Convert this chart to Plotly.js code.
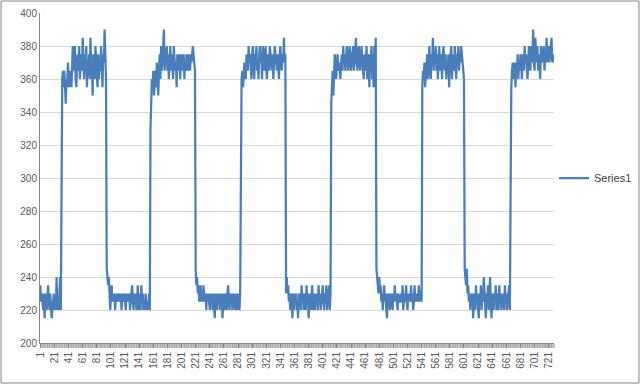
<!DOCTYPE html>
<html>
<head>
<meta charset="utf-8">
<script src="https://cdn.plot.ly/plotly-3.0.1.min.js"></script>
<style>html,body{margin:0;padding:0;background:#fff;overflow:hidden;width:640px;height:384px;}#chart{width:640px;height:384px;overflow:hidden;}</style>
</head>
<body>
<div id="chart"></div>
<script>
// Series1 values, read cycle by cycle from the reference
var low1 = [235,225,230,225,220,230,215,225,230,220,225,235,225,220,230,225,215,220,225,230,220,225,220,240,220,225,220,235,240,220];
var high1 = [345,360,365,355,365,350,345,360,355,370,365,355,360,365,355,370,380,365,375,380,360,355,370,375,365,380,360,370,375,365,385,370,360,375,365,380,355,370,365,375,360,385,365,370,350,375,365,360,380,370,365,355,375,360,370,365,380,360,355,375,370,390,375,360];
var low2 = [245,240,235,240,225,220,230,235,225,230,225,230,220,230,225,230,225,230,230,225,230,220,230,225,230,230,225,220,230,225,230,225,230,220,225,230,235,225,220,230,225,230,220,225,235,220,230,225,220,235,225,230,220,225,220,230,225,220,225,220,230,220];
var high2 = [330,350,360,355,365,350,360,365,355,370,360,350,365,375,360,380,365,370,380,390,365,375,370,380,365,375,360,370,380,365,375,370,360,380,375,365,370,355,375,370,365,375,360,370,375,365,370,375,360,370,365,375,370,365,375,370,365,375,370,375,380,375,370,365];
var low3 = [245,235,240,230,235,225,230,235,225,230,225,235,230,225,230,220,230,225,230,225,220,230,225,230,220,230,225,215,230,225,220,230,225,230,220,230,225,230,215,225,230,220,230,225,220,230,235,225,220,230,225,230,220,225,230,225,220,230,225,220,230,225,220,230];
var high3 = [335,360,365,355,360,370,365,360,375,370,365,380,370,375,365,360,375,380,370,360,375,370,380,365,370,360,375,380,370,375,360,380,370,365,375,380,365,360,375,370,365,380,375,370,365,375,360,370,380,375,370,365,375,370,360,375,380,370,365,375,370,385,370,375];
var low4 = [230,240,230,235,225,230,220,230,225,215,230,220,230,225,230,220,225,215,230,225,230,220,235,225,230,220,225,230,220,235,225,230,215,225,230,220,225,235,220,230,225,220,230,225,230,220,235,225,230,220,225,230,235,225,220,230,225,235,220,225,230,235,220,230];
var high4 = [345,360,365,350,360,375,365,360,370,375,365,370,365,360,370,375,365,380,370,375,365,370,380,375,365,370,380,375,365,370,375,380,365,370,375,385,370,365,375,380,370,365,375,380,370,365,360,375,370,365,380,360,375,370,355,375,370,380,360,375,355,380,370,385];
var low5 = [245,240,235,230,240,230,235,225,230,220,230,235,225,230,220,215,230,225,230,220,225,230,225,220,230,225,235,225,230,225,220,230,225,225,225,230,225,235,220,225,230,225,235,225,220,230,225,230,225,235,225,230,220,225,235,225,230,225,230,225,235,230,225,230,225];
var high5 = [355,365,360,370,355,365,370,375,360,370,380,365,360,375,370,385,365,375,370,380,365,375,360,370,380,365,375,370,360,375,380,370,365,375,360,370,365,375,355,370,375,380,360,370,375,365,380,370,360,375,370,380,365,375,370,380,375,370,365,360];
var low6 = [245,240,235,245,230,235,225,230,220,230,225,230,215,225,230,220,235,225,230,220,215,230,225,235,220,230,225,240,230,225,215,230,225,235,220,230,240,225,215,230,225,220,230,225,235,220,225,230,220,235,225,230,220,225,230,225,220,235,225,230,220,225,230,235,220];
var high6 = [330,355,365,370,360,365,370,355,370,365,375,360,370,365,375,370,360,375,370,365,380,370,375,365,360,370,380,375,365,380,370,375,390,370,365,385,375,370,380,365,375,370,360,380,375,370,375,380,365,375,370,385,375,370,380,370,375,380,385,370,375,370];

var values = [].concat(low1, high1, low2, high2, low3, high3, low4, high4, low5, high5, low6, high6);
var categories = values.map(function(v, i){ return i + 1; });
var tickLabels = categories.filter(function(c){ return (c - 1) % 20 === 0; });

var n = values.length;
var trace = {
  x: categories, y: values, type: 'scatter', mode: 'lines', name: 'Series1',
  line: {color: '#4a7ebb', width: 2.25}
};
var plotW = 514, plotH = 330;
var layout = {
  width: 640, height: 384, autosize: false,
  margin: {l: 40, r: 86, t: 13, b: 41, autoexpand: false},
  paper_bgcolor: '#ffffff', plot_bgcolor: '#ffffff',
  font: {family: 'Liberation Sans, Arial, sans-serif', size: 10, color: '#595959'},
  showlegend: true,
  legend: {x: 1.0, y: 0.5, xanchor: 'left', yanchor: 'middle', font: {size: 11, color: '#404040'}, bgcolor: 'rgba(0,0,0,0)'},
  xaxis: {
    range: [0.5, n + 0.5], tickmode: 'array', tickvals: tickLabels, ticktext: tickLabels.map(String),
    tickangle: -90, ticks: 'outside', ticklen: 4, tickcolor: '#868686', tickwidth: 1,
    showgrid: false, zeroline: false, showline: true, linecolor: '#868686', linewidth: 1,
    minor: {dtick: 1, tick0: 0.5, ticks: 'outside', ticklen: 4, tickcolor: '#9a9a9a', tickwidth: 0.6, showgrid: false},
    tickfont: {size: 10, color: '#595959'}
  },
  yaxis: {
    range: [200, 400], dtick: 20, tick0: 200, showgrid: true, gridcolor: '#d9d9d9', gridwidth: 1,
    zeroline: false, showline: true, linecolor: '#868686', linewidth: 1, ticks: '',
    tickfont: {size: 10, color: '#595959'}
  },
  shapes: [{
    type: 'rect', xref: 'paper', yref: 'paper',
    x0: (1 - 40) / plotW, x1: (639 - 40) / plotW,
    y0: (343 - 383) / plotH, y1: (343 - 1) / plotH,
    line: {color: '#868686', width: 1}, fillcolor: 'rgba(0,0,0,0)', layer: 'below'
  }]
};
Plotly.newPlot('chart', [trace], layout, {displayModeBar: false, staticPlot: true});
</script>
</body>
</html>
